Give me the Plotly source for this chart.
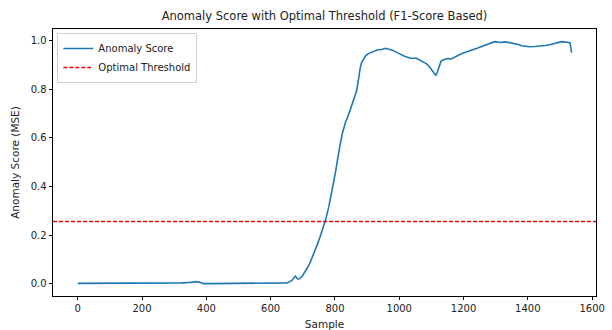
import plotly.graph_objects as go

# Sample index and anomaly score (MSE)
sample = [0, 25, 50, 60, 75, 100, 125, 150, 175, 200, 210, 225, 250, 275, 300, 325, 350, 370, 380, 390,
          420, 480, 540, 600, 640, 651, 660, 667, 672, 677, 684, 690, 698, 706, 714, 722, 729, 737, 745,
          753, 761, 771, 781, 792, 802, 813, 823, 833, 836, 839, 849, 859, 868, 872, 875, 879, 883, 889,
          896, 904, 912, 922, 933, 945, 958, 968, 979, 992, 1005, 1015, 1026, 1039, 1052, 1062, 1073,
          1084, 1094, 1101, 1107, 1111, 1114, 1118, 1122, 1126, 1130, 1140, 1151, 1162, 1172, 1182, 1193,
          1208, 1224, 1240, 1256, 1268, 1281, 1289, 1297, 1307, 1318, 1331, 1344, 1357, 1370, 1380, 1391,
          1406, 1422, 1437, 1453, 1468, 1484, 1495, 1505, 1518, 1531, 1536]
score = [0.002, 0.002, 0.004, 0.005, 0.004, 0.003, 0.002, 0.003, 0.002, 0.002, 0.003, 0.002, 0.002, 0.002,
         0.003, 0.004, 0.006, 0.009, 0.006, 0.001,
         0.001, 0.001, 0.001, 0.001, 0.001, 0.004, 0.009, 0.015, 0.024, 0.031, 0.020, 0.021, 0.031, 0.046,
         0.065, 0.085, 0.106, 0.132, 0.161, 0.190, 0.222, 0.263, 0.317, 0.386, 0.461, 0.549, 0.618, 0.665,
         0.672, 0.683, 0.720, 0.761, 0.795, 0.830, 0.863, 0.890, 0.910, 0.925,
         0.938, 0.946, 0.951, 0.957, 0.962, 0.963, 0.968, 0.964, 0.960, 0.951, 0.942, 0.936, 0.931, 0.926,
         0.928, 0.921, 0.915, 0.905, 0.892, 0.878, 0.866, 0.858, 0.856, 0.868, 0.884, 0.902, 0.915, 0.922,
         0.926, 0.924, 0.931, 0.936, 0.945, 0.952, 0.961, 0.967, 0.975, 0.980, 0.986, 0.990, 0.995, 0.993,
         0.992, 0.994, 0.991, 0.988, 0.983, 0.978, 0.976, 0.974, 0.975, 0.976, 0.979, 0.982, 0.988, 0.992,
         0.995, 0.993, 0.991, 0.950]
threshold = 0.256

x_ticks = [0, 200, 400, 600, 800, 1000, 1200, 1400, 1600]
y_ticks = [0.0, 0.2, 0.4, 0.6, 0.8, 1.0]

FONT = "DejaVu Sans"

fig = go.Figure()
fig.add_trace(go.Scatter(x=sample, y=score, mode="lines", name="Anomaly Score",
                         line=dict(color="#1f77b4", width=1.6)))
fig.add_trace(go.Scatter(x=[-77, 1612], y=[threshold, threshold], mode="lines",
                         name="Optimal Threshold",
                         line=dict(color="#ff0000", width=1.5, dash="4px,2px")))

axis_common = dict(showline=True, linecolor="black", linewidth=0.9, mirror=True,
                   ticks="outside", ticklen=3.5, tickwidth=0.9, tickcolor="black",
                   showgrid=False, zeroline=False,
                   tickfont=dict(family=FONT, size=10, color="#222222"))

fig.update_layout(
    width=612, height=330,
    margin=dict(l=53, r=16, t=29, b=34),
    paper_bgcolor="white", plot_bgcolor="white",
    title=dict(text="Anomaly Score with Optimal Threshold (F1-Score Based)",
               x=(53 + 596) / 2 / 612, xanchor="center", y=1 - 16 / 330, yanchor="middle",
               font=dict(family=FONT, size=11.5, color="#222222")),
    xaxis=dict(range=[-77, 1612], tickvals=x_ticks,
               title=dict(text="Sample", font=dict(family=FONT, size=10.5, color="#222222"), standoff=10),
               automargin=False, **axis_common),
    yaxis=dict(range=[-0.05, 1.047], tickvals=y_ticks, tickformat=".1f",
               title=dict(text="Anomaly Score (MSE)", font=dict(family=FONT, size=10.5, color="#222222"),
                          standoff=8),
               automargin=False, **axis_common),
    legend=dict(x=0.008, y=0.985, xanchor="left", yanchor="top",
                bgcolor="rgba(255,255,255,0.8)", bordercolor="#d0d0d0", borderwidth=1,
                font=dict(family=FONT, size=10, color="#222222"), tracegroupgap=0,
                itemwidth=30),
    showlegend=True,
)

fig.write_html("out.html")
